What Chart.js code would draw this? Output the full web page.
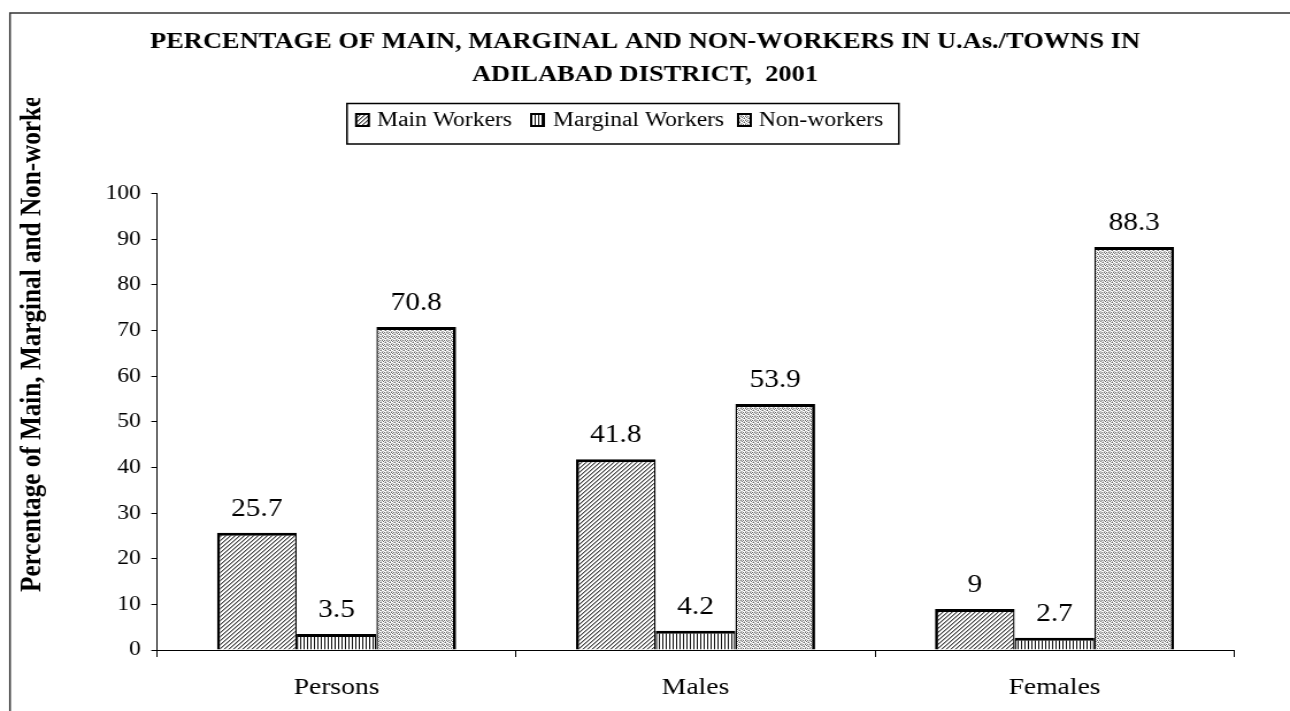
<!DOCTYPE html>
<html><head><meta charset="utf-8">
<script src="https://cdn.jsdelivr.net/npm/chart.js@4.4.0/dist/chart.umd.min.js"></script>
<style>
html,body{margin:0;padding:0;background:#fff;overflow:hidden;}
#wrap{position:absolute;left:0;top:0;width:1122px;height:711px;transform:scaleX(1.14973);transform-origin:0 0;}
</style></head><body>
<div id="wrap"><canvas id="c"></canvas></div>
<script>
const categories = ['Persons', 'Males', 'Females'];
const seriesNames = ['Main Workers', 'Marginal Workers', 'Non-workers'];
const mainWorkers = [25.7, 41.8, 9];
const marginalWorkers = [3.5, 4.2, 2.7];
const nonWorkers = [70.8, 53.9, 88.3];
const yMin = 0, yMax = 100, yStep = 10;
const titleLines = ['PERCENTAGE OF MAIN, MARGINAL AND NON-WORKERS IN U.As./TOWNS IN', 'ADILABAD DISTRICT,  2001'];
const yTitle = 'Percentage of Main, Marginal and Non-workers';

const FONT = "'Liberation Serif', 'Times New Roman', Times, serif";

function makePattern(kind) {
  const c = document.createElement('canvas');
  const g = c.getContext('2d');
  if (kind === 'main') {
    c.width = 4; c.height = 4;
    g.fillStyle = '#fff'; g.fillRect(0, 0, 4, 4);
    for (let i = 0; i < 4; i++) {
      g.fillStyle = '#444'; g.fillRect(i, 3 - i, 1, 1);
      g.fillStyle = '#aaa'; g.fillRect((i + 1) % 4, 3 - i, 1, 1);
    }
  } else if (kind === 'marg') {
    c.width = 3; c.height = 3;
    g.fillStyle = '#fff'; g.fillRect(0, 0, 3, 3);
    g.fillStyle = '#111'; g.fillRect(0, 0, 1, 3);
  } else {
    c.width = 4; c.height = 4;
    g.fillStyle = '#fff'; g.fillRect(0, 0, 4, 4);
    const px = [[0,0],[2,0],[1,1],[3,2],[0,3],[2,2],[3,1],[1,3]];
    g.fillStyle = '#666';
    px.slice(0,4).forEach(p => g.fillRect(p[0], p[1], 1, 1));
    g.fillStyle = '#bbb';
    px.slice(4).forEach(p => g.fillRect(p[0], p[1], 1, 1));
  }
  return g.createPattern(c, 'repeat');
}
const patMain = makePattern('main');
const patMarg = makePattern('marg');
const patNon = makePattern('non');

const pageFrame = {
  id: 'pageFrame',
  beforeDraw(chart) {
    const g = chart.ctx;
    g.save();
    g.fillStyle = '#fff';
    g.fillRect(0, 0, chart.width, chart.height);
    g.strokeStyle = '#333';
    g.lineWidth = 1.5;
    g.beginPath();
    g.moveTo(8.7, chart.height + 5);
    g.lineTo(8.7, 13);
    g.lineTo(chart.width + 5, 13);
    g.stroke();
    g.restore();
  }
};

const legendBox = {
  id: 'legendBox',
  afterDraw(chart) {
    const g = chart.ctx;
    g.save();
    g.strokeStyle = '#000';
    g.lineWidth = 1.5;
    g.strokeRect(301.8, 103.5, 480, 40.5);
    const items = [
      {x: 308.8, tx: 328, pat: patMain, label: seriesNames[0]},
      {x: 461, tx: 481, pat: patMarg, label: seriesNames[1]},
      {x: 641, tx: 660, pat: patNon, label: seriesNames[2]}
    ];
    g.font = '20.5px ' + FONT;
    g.textBaseline = 'alphabetic';
    g.textAlign = 'left';
    items.forEach(it => {
      g.fillStyle = '#000';
      g.fillRect(it.x, 113, 13, 14);
      g.fillStyle = it.pat;
      g.fillRect(it.x + 2, 115, 9, 10);
      g.fillStyle = '#000';
      g.fillText(it.label, it.tx, 126);
    });
    g.restore();
  }
};

const yTitlePlugin = {
  id: 'yTitlePlugin',
  afterDraw(chart) {
    const g = chart.ctx;
    g.save();
    g.beginPath();
    g.rect(0, 98, 130, chart.height);
    g.clip();
    g.translate(35, 592);
    g.rotate(-Math.PI / 2);
    g.font = 'bold 25.2px ' + FONT;
    g.fillStyle = '#000';
    g.textAlign = 'left';
    g.textBaseline = 'alphabetic';
    g.fillText(yTitle, 0, 0);
    g.restore();
  }
};

const dataLabels = {
  id: 'dataLabels',
  afterDatasetsDraw(chart) {
    const g = chart.ctx;
    g.save();
    g.font = '25.5px ' + FONT;
    g.fillStyle = '#000';
    g.textAlign = 'center';
    g.textBaseline = 'alphabetic';
    chart.data.datasets.forEach((ds, di) => {
      chart.getDatasetMeta(di).data.forEach((bar, i) => {
        g.fillText(String(ds.data[i]), bar.x, bar.y - 17);
      });
    });
    g.restore();
  }
};

function build() {
  new Chart(document.getElementById('c'), {
    type: 'bar',
    data: {
      labels: categories,
      datasets: [
        {label: seriesNames[0], data: mainWorkers, backgroundColor: patMain, borderColor: '#000',
         borderWidth: {top: 3, left: 2.7, right: 1.4, bottom: 0}},
        {label: seriesNames[1], data: marginalWorkers, backgroundColor: patMarg, borderColor: '#000',
         borderWidth: {top: 3, left: 1.4, right: 1.4, bottom: 0}},
        {label: seriesNames[2], data: nonWorkers, backgroundColor: patNon, borderColor: '#000',
         borderWidth: {top: 3, left: 1.4, right: 2.7, bottom: 0}}
      ]
    },
    options: {
      responsive: true,
      maintainAspectRatio: false,
      animation: false,
      devicePixelRatio: 1,
      layout: {padding: 0},
      datasets: {bar: {categoryPercentage: 0.666, barPercentage: 1, inflateAmount: 0}},
      plugins: {
        legend: {display: false},
        tooltip: {enabled: false},
        title: {
          display: true,
          text: titleLines,
          color: '#000',
          font: {family: FONT, size: 23, weight: 'bold', lineHeight: 1.45},
          padding: {top: 25.5, bottom: 101.5}
        }
      },
      scales: {
        x: {
          grid: {display: true, drawOnChartArea: false, drawTicks: true, tickLength: 7, color: '#000', offset: true},
          border: {display: true, color: '#000', width: 1},
          ticks: {color: '#000', font: {family: FONT, size: 24}, padding: 16},
          afterFit(s) { s.height = 61; }
        },
        y: {
          min: yMin, max: yMax,
          grid: {display: true, drawOnChartArea: false, drawTicks: true, tickLength: 5, color: '#000'},
          border: {display: true, color: '#000', width: 1},
          ticks: {stepSize: yStep, color: '#000', font: {family: FONT, size: 20.5}, padding: 9},
          afterFit(s) { s.width = 136.6; }
        },
        yRight: {
          position: 'right',
          display: true,
          min: yMin, max: yMax,
          grid: {display: false, drawTicks: false},
          border: {display: false},
          ticks: {display: false},
          afterFit(s) { s.width = 48.7; }
        }
      }
    },
    plugins: [pageFrame, legendBox, yTitlePlugin, dataLabels]
  });
}
Promise.all([
  document.fonts.load("20px 'Liberation Serif'"),
  document.fonts.load("bold 20px 'Liberation Serif'")
]).then(build, build);
</script>
</body></html>
